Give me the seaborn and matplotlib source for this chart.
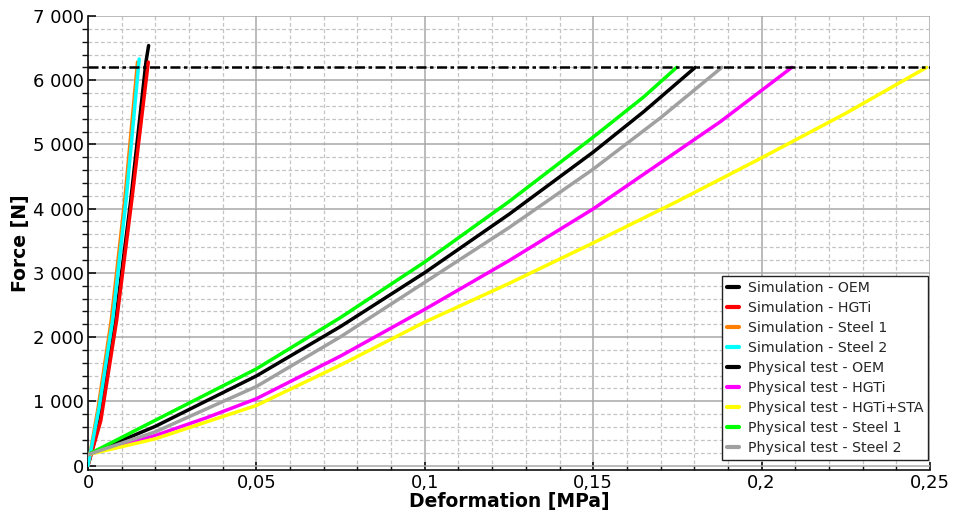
import numpy as np
import pandas as pd
import matplotlib
matplotlib.use("Agg")
import matplotlib.pyplot as plt
import matplotlib.ticker as mticker
import seaborn as sns

# ---- data ----
sim_oem_x = [0.0, 0.0035, 0.0082, 0.0127, 0.0172, 0.0180]
sim_oem_y = [0, 700, 2261, 4132, 6283, 6540]
sim_hgti_x = [0.0, 0.0038, 0.0085, 0.0130, 0.0179]
sim_hgti_y = [0, 700, 2261, 4132, 6283]
sim_st1_x = [0.0, 0.0030, 0.0069, 0.0109, 0.0147]
sim_st1_y = [0, 900, 2261, 4132, 6283]
sim_st2_x = [0.0, 0.0033, 0.0073, 0.0113, 0.0152]
sim_st2_y = [0, 900, 2261, 4132, 6330]
phys_oem_x = [0.0, 0.02, 0.05, 0.075, 0.10, 0.125, 0.15, 0.165, 0.1803]
phys_oem_y = [170, 610, 1395, 2165, 3004, 3912, 4880, 5510, 6200]
phys_hgti_x = [0.0, 0.02, 0.035, 0.05, 0.075, 0.10, 0.125, 0.15, 0.1877, 0.209]
phys_hgti_y = [170, 468, 740, 1040, 1705, 2432, 3190, 3996, 5352, 6200]
phys_sta_x = [0.0, 0.02, 0.05, 0.075, 0.10, 0.125, 0.15, 0.175, 0.20, 0.225, 0.249]
phys_sta_y = [170, 416, 935, 1565, 2234, 2835, 3466, 4114, 4791, 5485, 6200]
phys_st1_x = [0.0, 0.02, 0.05, 0.075, 0.10, 0.125, 0.15, 0.165, 0.1748]
phys_st1_y = [170, 705, 1505, 2305, 3170, 4110, 5114, 5740, 6200]
phys_st2_x = [0.0, 0.02, 0.05, 0.075, 0.10, 0.125, 0.15, 0.17, 0.1882]
phys_st2_y = [170, 525, 1230, 2005, 2853, 3704, 4615, 5415, 6200]
target_x = [0.0, 0.25]
target_y = [6200, 6200]

labels = ["Simulation - OEM", "Simulation - HGTi", "Simulation - Steel 1",
          "Simulation - Steel 2", "Physical test - OEM", "Physical test - HGTi",
          "Physical test - HGTi+STA", "Physical test - Steel 1", "Physical test - Steel 2"]
colors = ["#000000", "#ff0000", "#ff8000", "#00ffff", "#000000", "#ff00ff",
          "#ffff00", "#00ff00", "#a0a0a0"]
xs = [sim_oem_x, sim_hgti_x, sim_st1_x, sim_st2_x, phys_oem_x, phys_hgti_x,
      phys_sta_x, phys_st1_x, phys_st2_x]
ys = [sim_oem_y, sim_hgti_y, sim_st1_y, sim_st2_y, phys_oem_y, phys_hgti_y,
      phys_sta_y, phys_st1_y, phys_st2_y]

x_ticks = [0, 0.05, 0.10, 0.15, 0.20, 0.25]
x_tick_labels = ["0", "0,05", "0,1", "0,15", "0,2", "0,25"]
y_ticks = [0, 1000, 2000, 3000, 4000, 5000, 6000, 7000]
y_tick_labels = ["0", "1 000", "2 000", "3 000", "4 000", "5 000", "6 000", "7 000"]

sns.set_style("white")
plt.rcParams['font.family'] = ['DejaVu Sans']

fig = plt.figure(figsize=(9.56, 5.22), dpi=100)
ax = fig.add_axes([88/956, 1-470/522, (930-88)/956, (470-16)/522])

for i, (lab, c, x, y) in enumerate(zip(labels, colors, xs, ys)):
    df = pd.DataFrame({"x": x, "y": y})
    sns.lineplot(data=df, x="x", y="y", ax=ax, color=c, label=lab, sort=False,
                 estimator=None, linewidth=2.5, zorder=3 + i * 0.01)

tdf = pd.DataFrame({"x": target_x, "y": target_y})
sns.lineplot(data=tdf, x="x", y="y", ax=ax, color="#000000", sort=False,
             estimator=None, linewidth=1.8, zorder=5, legend=False)
ax.lines[-1].set_dashes([4, 1.4, 1.4, 1.4])

ax.set_xlim(0, 0.25)
ax.set_ylim(-70, 7000)
ax.set_xticks(x_ticks)
ax.set_xticklabels(x_tick_labels)
ax.set_yticks(y_ticks)
ax.set_yticklabels(y_tick_labels)
ax.xaxis.set_minor_locator(mticker.MultipleLocator(0.01))
ax.yaxis.set_minor_locator(mticker.MultipleLocator(200))

ax.grid(which="major", color="#a8a8a8", linewidth=1.1, linestyle="-", zorder=0)
ax.grid(which="minor", color="#c4c4c4", linewidth=0.9, linestyle=(0, (3, 2)), zorder=0)
ax.set_axisbelow(True)

ax.tick_params(axis="both", which="major", direction="in", length=6, width=1.2,
               labelsize=13, color="#111111", labelcolor="#000000", pad=3)
ax.tick_params(axis="both", which="minor", direction="in", length=3, width=1.0,
               color="#111111")
ax.tick_params(axis="y", which="minor", direction="out", length=4)
ax.tick_params(axis="both", which="both", left=True, bottom=True)

for s in ["top", "right"]:
    ax.spines[s].set_visible(False)
for s in ["left", "bottom"]:
    ax.spines[s].set_color("#111111")
    ax.spines[s].set_linewidth(1.2)

ax.set_xlabel("Deformation [MPa]", fontsize=13.5, fontweight="bold", labelpad=0,
              color="#000000")
ax.set_ylabel("Force [N]", fontsize=13.5, fontweight="bold", labelpad=2,
              color="#000000")

leg = ax.legend(loc="lower right", bbox_to_anchor=((928 - 88) / 842, (470 - 460) / 454),
                fontsize=10.2, frameon=True, fancybox=False,
                edgecolor="#222222", framealpha=1, handlelength=0.85,
                handletextpad=0.6, labelspacing=0.42, borderpad=0.35,
                borderaxespad=0.0)
leg.get_frame().set_linewidth(1.0)
for h in leg.get_lines():
    h.set_linewidth(3)
    h.set_linestyle("-")

fig.savefig("out.png", dpi=100)
